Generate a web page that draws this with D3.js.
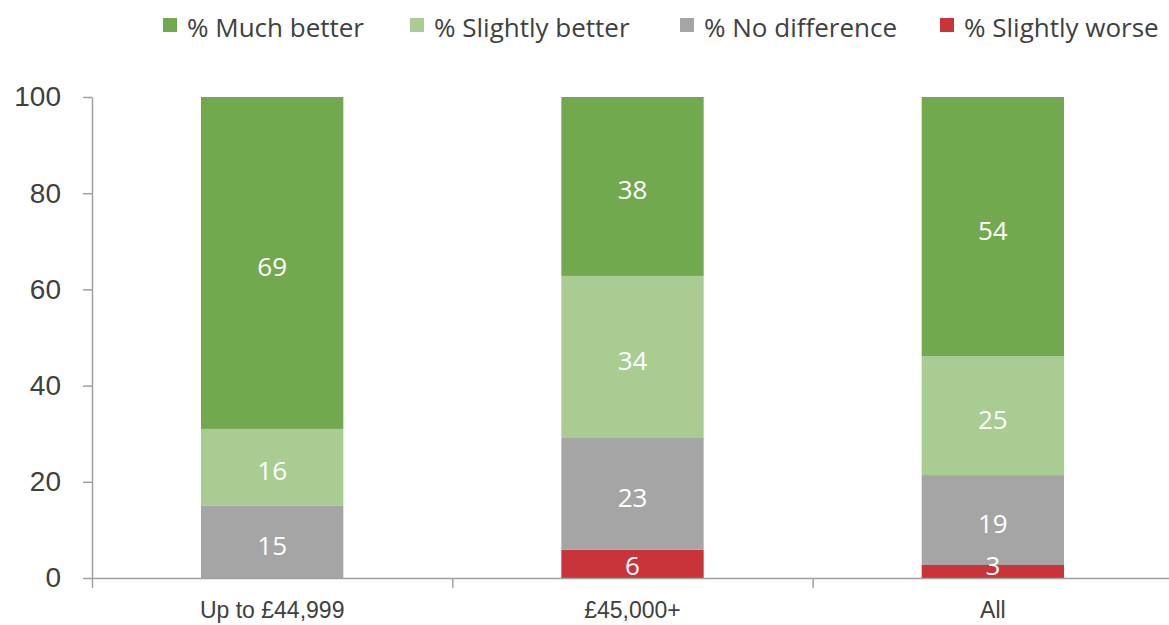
<!DOCTYPE html>
<html>
<head>
<meta charset="utf-8">
<script src="https://cdn.jsdelivr.net/npm/d3@7"></script>
<style>
  body { margin: 0; background: #fff; }
  svg { display: block; font-family: "Open Sans", "Noto Sans", sans-serif; }
</style>
</head>
<body>
<svg id="chart"></svg>
<script>
// categories and series (bottom to top in the stack)
const categories = ['Up to £44,999', '£45,000+', 'All'];
const seriesNames = ['% Slightly worse', '% No difference', '% Slightly better', '% Much better'];
const legendOrder = ['% Much better', '% Slightly better', '% No difference', '% Slightly worse'];

// values as drawn (bar heights) and the rounded labels printed on them
const slightlyWorse = [0, 5.9, 2.7];
const noDifference = [15, 23.2, 18.7];
const slightlyBetter = [16, 33.7, 24.7];
const muchBetter = [69, 37.2, 53.9];

const slightlyWorseLabels = [null, 6, 3];
const noDifferenceLabels = [15, 23, 19];
const slightlyBetterLabels = [16, 34, 25];
const muchBetterLabels = [69, 38, 54];

const yTicks = [0, 20, 40, 60, 80, 100];

const colors = {
    '% Much better': '#72a94e',
    '% Slightly better': '#a9cc93',
    '% No difference': '#a5a5a5',
    '% Slightly worse': '#c9333a'
};

const width = 1169, height = 625;
const margin = {top: 97, right: -4, bottom: 47, left: 92};
const innerW = width - margin.left - margin.right;
const innerH = height - margin.top - margin.bottom;

const svg = d3.select('#chart')
    .attr('width', width)
    .attr('height', height);

const chart = svg.append('g')
    .attr('transform', `translate(${margin.left}, ${margin.top})`);

// table for the stack
const valueArrays = [slightlyWorse, noDifference, slightlyBetter, muchBetter];
const labelArrays = [slightlyWorseLabels, noDifferenceLabels, slightlyBetterLabels, muchBetterLabels];
const table = categories.map((c, i) => {
    const row = {category: c};
    seriesNames.forEach((s, j) => row[s] = valueArrays[j][i]);
    return row;
});
const stacked = d3.stack().keys(seriesNames)(table);

const xscale = d3.scaleBand()
    .domain(categories)
    .range([0, innerW])
    .padding(0);
const barW = xscale.bandwidth() * 0.395;

const xbound = d3.scaleLinear()
    .domain([0, categories.length])
    .range([0, innerW]);

const yscale = d3.scaleLinear()
    .domain([0, 100])
    .range([innerH, 0]);

// bars
const layers = chart.selectAll('g.layer')
    .data(stacked)
    .join('g')
    .attr('class', 'layer')
    .attr('fill', d => colors[d.key]);

layers.selectAll('rect')
    .data(d => d)
    .join('rect')
    .attr('x', d => xscale(d.data.category) + (xscale.bandwidth() - barW) / 2)
    .attr('y', d => yscale(d[1]))
    .attr('width', barW)
    .attr('height', d => yscale(d[0]) - yscale(d[1]));

// value labels
stacked.forEach((layer, j) => {
    chart.append('g')
        .selectAll('text')
        .data(layer.map((d, i) => ({d: d, label: labelArrays[j][i]})).filter(e => e.label !== null))
        .join('text')
        .attr('x', e => xscale(e.d.data.category) + xscale.bandwidth() / 2)
        .attr('y', e => Math.min((yscale(e.d[0]) + yscale(e.d[1])) / 2 + 3, innerH - 13))
        .attr('text-anchor', 'middle')
        .attr('dominant-baseline', 'central')
        .attr('fill', '#ffffff')
        .attr('font-size', 26)
        .text(e => e.label);
});

// axes
const yaxis = d3.axisLeft(yscale)
    .tickValues(yTicks)
    .tickSize(9)
    .tickPadding(22)
    .tickSizeOuter(0);

const yaxis_group = chart.append('g').call(yaxis);
yaxis_group.selectAll('line, path').attr('stroke', '#a0a0a0').attr('stroke-width', 1.5);
yaxis_group.selectAll('text').attr('font-size', 28).attr('fill', '#404040');

const xaxis = d3.axisBottom(xscale)
    .tickSize(0)
    .tickPadding(24)
    .tickSizeOuter(0);

const xaxis_group = chart.append('g')
    .attr('transform', `translate(0, ${innerH})`)
    .call(xaxis);
xaxis_group.select('path').attr('stroke', '#a0a0a0').attr('stroke-width', 1.5);
xaxis_group.selectAll('text').attr('font-size', 23).attr('fill', '#404040');

const xticks = d3.axisBottom(xbound)
    .tickValues(d3.range(categories.length + 1))
    .tickSize(10)
    .tickSizeOuter(0)
    .tickFormat('');

const xticks_group = chart.append('g')
    .attr('transform', `translate(0, ${innerH})`)
    .call(xticks);
xticks_group.select('path').remove();
xticks_group.selectAll('line').attr('stroke', '#a0a0a0').attr('stroke-width', 1.5);

// legend
const legendX = [163, 410, 680, 940];
const legend = svg.append('g');
const items = legend.selectAll('g')
    .data(legendOrder)
    .join('g')
    .attr('transform', (d, i) => `translate(${legendX[i]}, 0)`);
items.append('rect')
    .attr('x', 0)
    .attr('y', 18)
    .attr('width', 14)
    .attr('height', 14)
    .attr('fill', d => colors[d]);
items.append('text')
    .attr('x', 24)
    .attr('y', 37)
    .attr('font-size', 26)
    .attr('fill', '#404040')
    .text(d => d);
</script>
</body>
</html>
